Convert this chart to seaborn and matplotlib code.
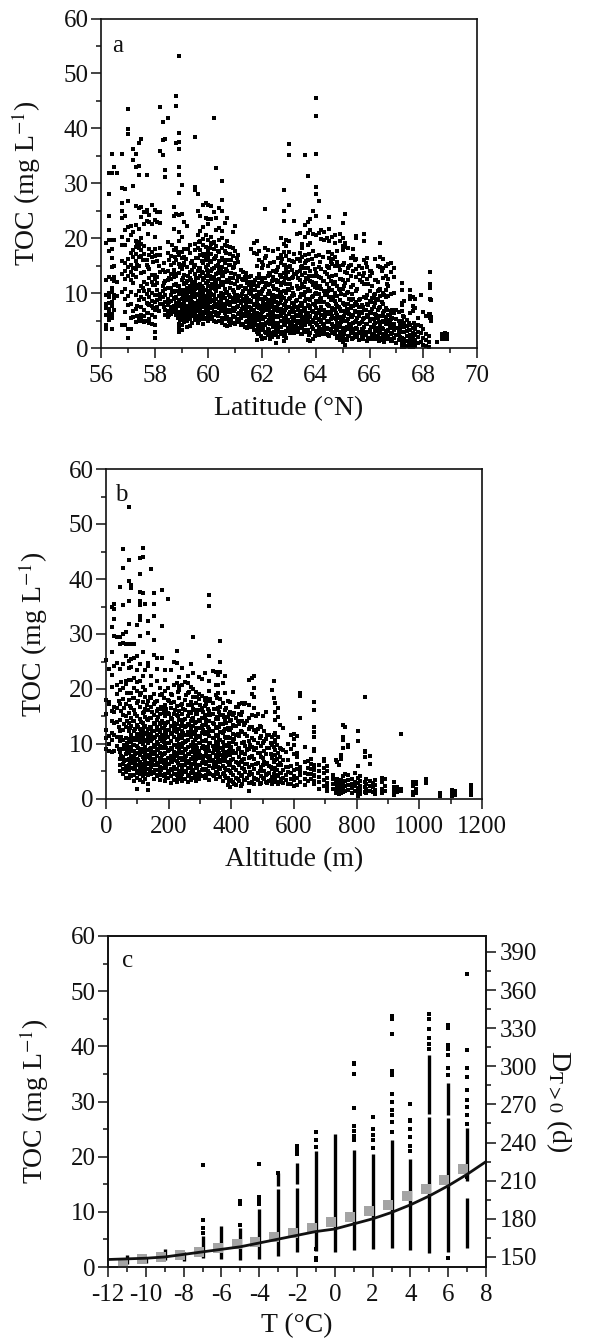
import matplotlib
matplotlib.use("Agg")
import matplotlib.pyplot as plt
from matplotlib.ticker import MultipleLocator
import pandas as pd
import seaborn as sns

sns.set_theme(style="white")
plt.rcParams["font.family"] = ["Liberation Serif", "DejaVu Serif"]
plt.rcParams["mathtext.fontset"] = "stix"
plt.rcParams["axes.unicode_minus"] = False

# Panel a: latitude columns and the TOC readings in each
lat_a = [56.2,56.3,56.4,56.5,56.6,56.8,56.9,57.0,57.1,57.2,57.3,57.4,57.5,57.6,57.7,57.8,57.9,58.0,58.1,58.2,58.3,58.4,58.5,58.6,58.7,58.8,58.9,59.0,59.1,59.2,59.3,59.4,59.5,59.6,59.7,59.8,59.9,60.0,60.1,60.2,60.3,60.4,60.5,60.6,60.7,60.8,60.9,61.0,61.1,61.2,61.3,61.4,61.5,61.6,61.7,61.8,61.9,62.0,62.1,62.2,62.3,62.4,62.5,62.6,62.7,62.8,62.9,63.0,63.1,63.2,63.3,63.4,63.5,63.6,63.7,63.8,63.9,64.0,64.1,64.2,64.3,64.4,64.5,64.6,64.7,64.8,64.9,65.0,65.1,65.2,65.3,65.4,65.5,65.6,65.7,65.8,65.9,66.0,66.1,66.2,66.3,66.4,66.5,66.6,66.7,66.8,66.9,67.0,67.1,67.15,67.2,67.3,67.4,67.5,67.6,67.7,67.8,67.9,68.0,68.1,68.2,68.25,68.3,68.5,68.7,68.8,68.9]
toc_a = [
[3.5,4.2,6.1,7.2,8.1,9.6,12.4,19.1],
[5.1,5.6,6.4,7.1,8.2,9.3,10.1,13,17.6,19.6,21.5,24,28.1,31.8],
[3.5,5.5,6.2,7.6,8.4,10.2,11,12.6,14.7,16.4,18.1,19.7,31.8,35.4],
[7,9.1,9.6,12.2,13,15,19.7,33],
[9.4,12,31.8],
[4.2,10.2,13.4,15.8,18.7,20.3,23.6,25,26.4,29.1,35.4],
[4.1,6.5,8.9,10.7,12.6,14.1,15.4,18.8,21.5,24,29],
[1.8,3.5,7.8,9.4,13.1,14.7,16.2,19.7,22,26.7,38.9,39.8,43.5],
[3.5,5.4,8,10.2,12.3,13.9,15.1,17.3,20.6,22.2],
[5.7,6.8,11.9,13.3,14.6,16.5,17.8,21.2,29.5,34.3,36.2],
[4.8,7.1,9.7,12.9,14.4,15.9,17.1,18.4,19.5,22.4,25.8,33,35.4],
[4.9,5.6,8.7,10.4,14.9,16.6,18.2,19.3,21.7,25.5,31.5,33.2,37.3],
[5.2,6.1,7.5,9.3,11.2,13.6,16.8,17.9,19,20.1,23.8,25.6,38],
[4.7,5.8,6.9,8.9,10.3,12,13.9,17.2,18.6,22.6,24.7],
[5,6.4,8.2,9.8,11.6,15.2,16.1,23.2,24.8,25.2,31.5],
[4.5,5.3,7.8,9.2,10.6,12.8,14.3,17,18,23,24.2],
[4.4,6,7.6,8.5,10,12.1,13.3,16.5,17.5,22.5,26],
[1.8,3,4.2,5.6,7,8.4,9.7,11.4,12.5,13.3,16.8,18.1,20.2,23.3,25.2],
[7.5,8.8,10.5,11.8,12.9,15.8,17,22.9,24.7],
[8.1,9,9.9,13.9,16.9,18.3,22.7,24.8,35.8,43.8],
[8,9.2,10.3,11.3,14.2,35.2,37.9,41.1],
[6,7,8.4,9.6,10.7,12.2,13.8,31.2,32.4,38.1],
[5.7,6.8,7.9,9,10.9,12.3,14.1,17.3,19.3,41.8],
[6.2,7.4,8.6,9.7,11,12.6,13.5,15.2,16.8],
[6.7,7.7,8.9,10.2,11.5,12.9,14.2,15.5,17.9,21.7,24.1,25.6],
[6.1,7.2,8.2,9.2,10.4,11.7,13.1,16.1,18.3,24.4,37.3,44.1,45.8],
[2.9,3.6,4.4,5.4,6.6,7.7,8.7,9.8,11.2,13.7,15.3,17,19.4,21.2,24.3,28.3,31.5,33,36.2,37.6,39.1,53.1],
[3.3,4.2,5.7,6.8,7.4,8.9,10.1,12.4,14.4,16.3,17.4,20.3,24.4,29.6],
[4.8,5.5,6.2,7.1,8.3,9.4,10.6,11.6,13.3,15.5,16.6,18,23],
[3.9,5,5.9,6.6,7.7,8.8,9.9,11,12.2,14.7,22.2],
[4,5.2,6.1,7,8,9.1,10.2,11.3,12.8,13.9,17.3,18.8],
[4.5,5.8,6.5,7.4,8.4,9.5,10.5,11.8,14.2,15.9],
[5.1,6.4,7.2,8.2,9.2,10.8,12.1,13.5,15.1,17.8,19,28.8,29.3,38.4],
[4.6,5.6,6.7,7.6,8.6,9.7,11.4,12.7,14,16.3,18.2,20.5,25,28.1],
[5.3,6.3,7.3,8.1,9.3,10.3,11.7,13.1,14.6,16.9,17.9,19.5,21.3,24],
[4.3,5.7,6.6,7.8,8.8,9.9,11,12.4,13.7,15.4,17.1,18.7,19.8,22.1,26.1],
[5.4,6.4,7.1,8.3,9.4,10.5,11.9,13.2,14.8,16.1,18.4,20.6,23.6,26.4],
[4.9,5.9,7,8,9,10.1,11.2,12.2,13.6,15.2,16.6,17.8,19.6,22.5,23.4,26],
[5.2,6.2,7.4,8.7,9.8,10.9,12.6,14.1,15.7,17.2,18.9,20.2,23.5,25.9],
[5,6.6,7.7,8.5,9.6,11.4,13,14.5,16.2,18,19.3,24.7,41.8],
[4.8,6.1,7.5,8.9,10.4,11.8,13.4,15,16.8,18.6,21.5,23.6,32.7],
[4.9,6.4,7.2,8.3,9.5,11.1,12.5,14.3,15.8,17.5,19.7,21.8,25.5],
[4.5,5.5,6.7,8.1,9.9,11.5,13.3,14.7,16.4,18.3,20,21.3,25,27,30.4],
[4.1,5.3,6.3,7.6,9.1,10.7,12,13.8,15.5,17.6,18.8,22.8],
[4,5.6,7,8.6,10.2,12.3,14,16,18.5,19.5,23.6],
[4.2,5.2,6.5,7.8,9.3,11,12.8,15.1,17.1,18.4],
[4.6,5.9,7.3,8.8,10.6,12.7,14.6,16.7,18.2,21.2],
[4.3,5.7,7.1,8.4,9.7,11.6,13.5,15.4,17.7,22.2],
[5.1,6.2,7.7,9,10.9,12.9,15.7,17],
[4.1,5.4,6.8,8.2,9.5,11.2,14.2],
[4.4,6,7.4,8.9,10.3,12.4,13.9],
[4.7,5.8,6.9,8,9.4,10.8,12.6,13.6],
[4,5.3,6.5,7.5,8.7,10,11.5,12.9],
[3.8,4.9,6.1,7.2,8.5,9.9,11,13.2,18.1],
[3.2,4.5,5.6,6.7,7.8,9.2,10.5,12.1,17.3,19.1],
[1.5,3,4.2,5.3,6.4,7.5,8.6,9.7,11.3,12.8,15,17.2,19.4],
[2.9,4,5.1,6.2,7.3,8.9,10.2,11.8,13.4,16.1,17.7],
[1.7,3.2,4.4,5.5,6.6,7.7,9,10.4,12,14.5,15.7],
[1.9,3,4.1,5.7,6.9,8.1,9.3,11.1,12.7,16.3,18.2,25.4],
[2.4,3.5,4.8,6,7.2,8.4,9.8,11.5,13.1,14.9,17.9],
[1.6,2.8,4.3,5.4,6.5,7.6,8.8,10.1,11.7,13.3,15.4],
[2.7,3.8,4.9,6.3,7.4,8.5,9.6,11.2,12.9,14,17.7],
[1,2.3,3.6,4.6,5.8,7,8.3,9.5,10.7,12.4,13.8],
[2,3.3,4.5,5.6,6.8,8,9.2,10.6,12.2,14.7,16.4,18],
[2.6,3.9,5,6.1,7.1,8.7,9.9,11.4,13,15.5,17,20],
[1.2,2.1,4.2,5.5,6.6,7.8,9.1,10.3,12.1,13.6,15.2,17.5,19,23.1,25,28.8],
[1.8,3.1,4.7,5.9,7.3,8.6,10,11.6,13.2,14.4,16.7,18.6,19.6],
[3.4,4.8,6.2,7.5,8.9,10.5,12.5,14.8,16.1,17.4,19.4,26,35.1,37.1],
[3,4.3,5.7,7,8.2,9.4,11,12.8,14.2,15.9],
[2.8,4,5.2,6.5,7.9,9.7,13.5,15.6,17.2,23.1],
[3.3,4.6,6,7.4,8.8,11.3,13.9,16.2,20.7],
[3.7,5,6.3,7.7,9.3,10.9,12.3,14.1,15.8,17.3,21],
[2.5,3.6,5.3,6.7,8,9.6,11.7,13.3,15,16.6,18.3,19],
[2.9,4.2,5.6,7.1,8.5,10.2,12,13.7,15.4,17,20.2,22.4,35.1],
[1.5,3.2,4.9,6.4,7.8,9,10.7,12.6,14.5,16,18.7,21,22.9,31.4],
[1.3,2.7,4.4,5.8,7.2,8.7,10.4,12.2,14,19.1,21.4,23.4],
[1.6,3.5,5.1,6.6,8.1,9.5,11.4,13.2,15.3,17.6,20.8,25],
[3.1,4.5,5.9,7.3,8.6,10.1,11.9,13.6,16.8,20.6,24,28,29.4,35.4,42.2,45.5],
[2.3,3.8,5.2,6.8,8.3,9.9,11.1,13,14.7,17,20.9,26.7],
[3.4,4.7,6.1,7.5,9.1,10.8,12.7,14.4,19.9,21.5],
[2.8,4.1,5.5,7,8.4,10.3,12.2,19.6,21.2],
[2.5,3.7,5,6.5,8,9.7,11.6,13.4,15,20.1],
[2.2,3.4,4.8,6.2,7.6,9.2,11,12.9,14.6,16.4,17.5,19.4,21.7,23.8],
[3,4.4,5.8,7.3,9,10.6,13.1,15.3,17.1,20.3],
[2.6,3.9,5.4,6.9,8.5,10,12,14.9,16.6,19.1,20.5],
[1.9,3.2,4.6,6,7.7,9.4,11.3,15.6,17.7],
[1.4,2.9,4.2,5.6,7.1,8.8,10.5,12.5,14.2,19.5,20.7],
[1.1,2.4,3.6,5.1,6.7,8.2,10.7,12.4,15.2,17.8,18.6,20.1,22.7],
[0.6,1.7,3.3,4.9,6.3,7.9,9.6,11.8,13.8,18.4,19.2,24.4],
[2.1,3.5,5.3,6.8,8.1,10.2,12.3,14.6,18.2],
[2.7,4,5.7,7.2,8.7,11.1,13.2,15.1,16.4],
[1.8,3.1,4.5,6.1,7.6,9,11.5,14,16.8,18.1],
[2.3,3.7,5,6.5,8.3,10.3,12.9,14.3,16.2,20,20.4],
[1.5,2.9,4.3,5.9,7.4,8.8,13.4,14.9],
[2,3.4,4.8,6.3,7.8,12.1,14.5],
[2.6,3.9,5.5,7,9.2,11.7,13.6,16.1,19.5,20.8],
[1.2,3,4.4,6,8,9.6,12.6,14.8,16.3],
[1.9,3.3,4.9,6.6,8.5,10.4,13.1,14.1],
[2.5,3.8,5.2,7.1,9.1,11.2,13.7],
[1.7,3.1,4.6,6.2,8.2,9.9,12.4,16.2],
[2.2,3.6,5.4,6.9,8.7,10.3,12,15],
[1.4,2.8,4.1,5.8,7.5,9.4,10.8,14.7,16.6,19.1],
[2.4,3.5,5,6.4,8,10.1,12.8,14.5,16.2],
[1.6,3,4.3,5.6,7.2,9.2,10.6,13.1,14.9],
[2,3.3,4.7,6.1,9.5,11.3,12.5,15.3],
[1.2,2.6,3.9,5.2,6.7,9.8,13.9,15.5],
[1.8,3.2,4.4,6.4,10,12.9,14.6],
[1,2.3,3.7,5.3,6.9],
[1.4,2.7,3.4,4.9,6.5],
[2,3.1,3.6,4.2],
[0.2,1,1.8,3,4.3,5,6.8,7.8,8.2,10.6,11.8],
[0.1,0.8,1.6,2.9,3.8,4.5,5.6,8.6],
[0.3,1.2,2.2,3.1,4,5.1],
[0.1,0.7,1.4,2.3,3.3,4.1,6.3,8.9,9.4,10.5],
[0.2,1,1.9,2.8,3.6,6.7,7.7,9.2],
[0.4,1.3,2.4,3.5,4.1,7.3,9],
[0.9,2,3,4.2,5.5],
[1.1,2.7,4,9.7],
[0.6,1.8,3.4,6.6],
[0.3,1.4,2.6,5.8],
[0.1,1.1,2.1,6.2],
[5.4,6.2,9,11,11.7,13.8],
[5,5.6,8.8],
[1.1],
[1.6,2.2,2.6],
[1.7,2,2.4,2.8],
[1.6,2.1,2.5],
]

# Panel a: further readings between those columns
lat_a2 = [57.35,57.55,57.75,57.95,58.15,58.35,58.55,58.65,58.75,58.85,58.95,59.05,59.15,59.25,59.35,59.45,59.55,59.65,59.75,59.85,59.95,60.05,60.15,60.25,60.35,60.45,60.55,60.65,60.75,60.85,60.95,61.05,61.15,61.25,61.35,61.45,61.55,61.65,61.75,61.85,61.95,62.05,62.15,62.25,62.35,62.45,62.55,62.65,62.75,62.85,62.95,63.05,63.15,63.25,63.35,63.45,63.55,63.65,63.75,63.85,63.95,64.05,64.15,64.25,64.35,64.45,64.55,64.65,64.75,64.85,64.95,65.05,65.15,65.25,65.35,65.45,65.55,65.65,65.75,65.85,65.95,66.05,66.15,66.25,66.35,66.45,66.55,66.65,66.75,66.85,67.25,67.45,67.65]
toc_a2 = [
[15.2,5.9,18.9,7.7],[16.1,10.9,4.9],[14.8,6.3,20.8,8.1],[7.3,15.6,11.4],[9.6,14.9,6.7],[15.4,7.4,11.9],[8.3,16,12.8,6.1],[10.3,7,18.7],[9.1,13.4,6.5,16.6],[11.2,7.9,17.4,5.5],
[6.1,10.6,14.8,8,5.1],[12.8,9.5,6.3,15.1,7.9],[6.9,11.8,8.7,16.2,10.2],[9.2,5.4,13.1,7.3,18.1],[7.6,12.3,6.5,10.7,15.5,8.8],[10,6.9,14.7,8.1,11.4],[7.9,5.9,12.7,9.9,16.3,6.7],[11,8.4,14.6,7.1,5.1,19.3],[9.7,6.1,13.9,8.9,15.8,11.2],[7.4,12.8,5.3,10.6,16.7,8.6],[6.8,9.3,14.2,7.7,11.8,17.2,5.2],
[10.4,8.4,13.1,6.3,15.9,9.2,18.2],[7.2,11.7,5.6,14.4,8.8,19.1],[12.4,9,6.5,16.4,7.9,10.7],[8.1,13.7,5.9,11.2,15.2,17.7],[6.9,10,14,8.7,12.1,5],[9.4,7.3,13.2,16.1,11.5],[5.6,10.1,8,14.3,17.3,6.6],[12,7,9.6,15.2,4.9],[8.4,5.1,11.8,13.6,16.1],[6.7,10.2,9.1,14.8,4.6],
[7.5,12.2,5.3,9.7,16.4],[8.6,4.7,11.1,6.4,13.1],[5.9,9.9,7.1,12.6,4.2],[10.9,6.2,8.5,13,3.9],[7.4,5,9.1,11.9,3.6],[6,12.1,8.4,4.6,10.4],[9.5,7,3.9,11.4,5.5],[8,4.8,10.6,6.4,12.4],[5.9,11.2,3.4,7.8,9.3,2.5],[7.1,4.3,9.9,12.7,6.1,2.2],
[10.7,5.2,8.3,3.7,6.7,15.2],[4.6,9,2.7,11.9,7.5,16.8],[6.9,3.3,10.4,8.1,13.6,5.1],[12.2,4.4,7.8,2,9.4,6],[5.6,8.9,3,10.8,6.9,15.7],[7.5,4.1,12.1,9.4,2.9,14.2],[3.8,10.2,5.9,8.2,13.3],[6.3,2.9,9.2,11.9,4.9,16.2],[8,4.4,12.7,6.9,2.4,15.1],[5.1,10.7,7.5,3.6,13.8],
[9.1,4.2,6.6,11.7,2.7,15],[7.3,3.5,10,5.1,12.9],[4.9,8.6,6.1,13.4,3.9],[10.8,7,3,12.7,5.8,16.2],[6,9.9,4.4,8.2,14.8,2.6],[3.2,7.2,11.1,5,9.6,14.6],[8.9,4.7,12.8,6.4,3,15.9],[5.6,10.4,7.7,2.4,13.1,17.2],[9.3,3.9,6.8,12,4.8,16.2],[7.9,11.1,2.1,5.4,14.3,9.9],
[4.1,8.4,6.4,13.2,2.9,10.9],[6.9,3.1,11.3,5.1,9,15.6],[8.3,4.4,12.2,2.6,7,16.6],[5.8,9.7,3.5,13.9,6.6],[10.4,4.7,7.9,2.3,14.7,17.4],[6.5,8.8,3.2,12.2,5.3,15.6],[4,9.3,7.1,2.8,11.7,16.2],[8.1,5.2,3.3,13.3,6.3],[3.9,7.4,10.8,2.1,5.5,14.9],[6.7,1.8,9.8,4.7,12.6],
[3,8,5.8,2.5,11.2,15.4],[5,7.1,1.4,10,3.8,13.7],[6.2,2.2,8.9,4.4,14.9],[3.4,7.7,1.6,5.6,9.9],[4.7,6.7,2.6,8.1,16.1],[2,5.5,3.5,7.9,10.8],[6.5,2.8,4.6,8.9,12.4],[3.2,1.6,5.3,7.4,13.1],[4.3,6.9,2.4,9.1,15.4],[2.9,7.9,5.7,1.9,11.7],[3.9,6.3,1.6,8.4,14],
[5.3,2.4,7.4,4.2,9.6],[2,6.1,3.4,8.9,12.4],[4.8,2.9,7.2,1.3,10.6],[3.7,5.9,1.8,8.3,14.1],[2.5,6.7,4.7,1.1,9.7],[5.1,3.1,7,2.1,11.6],[3.9,1.7,6,4.5],[2.7,5.4,1.2,3.6,6.9],[4.5,1.5,2.9,5.9],[3.2,2.1,0.9,4.6],
[1.4,4.6,2.6,0.6,7.3],[2.5,0.5,3.9,1.7,5.9],[1.1,3.6,0.3,2.6,7],
]

# Panel b: altitude columns and the TOC readings in each
alt_b = [0,9,18,27,36,45,54,63,72,81,90,99,108,117,126,135,144,153,162,171,180,189,198,207,216,225,234,243,252,261,270,279,288,297,306,315,320,328,340,365,350,358,372,380,388,396,405,415,425,435,445,455,465,472,485,495,505,510,520,530,540,548,535,538,555,565,575,590,600,610,620,635,645,655,663,665,680,695,705,725,735,745,738,750,757,762,772,785,795,803,810,825,830,842,852,860,880,890,920,930,940,980,990,1020,1065,1105,1115,1165]
toc_b = [
[9,11,12.5,15.5,18,25.2],
[8.8,10,11.5,17.3,17.6,23.7],
[8.5,10.8,12,14.2,16,20.4,22.5,31.3,35,26.8],
[8.7,11.6,13.8,15.8,24.2,32.8,34.6,35.4,29.6,16.7],
[9.6,11.2,14,16.5,19,20.7,24.8,29.4],
[5,6.2,7.3,8.6,10.5,12.3,14.3,17.2,19.8,23.7,28.1,29.4,38.5],
[4.6,5.5,6.4,7.6,9,10.7,12.5,15.3,18.2,20.2,24.6,28.4,30,35.3,42,45.4],
[3.8,4.9,6,7,8.2,9.6,11.1,13,15,17.2,20.9,21.5,26,28.2,30.3],
[3.9,5.2,6.2,7.3,8.4,9.5,10.9,12.3,13.8,15.6,18,21.7,23.8,25.1,28.2,31.8,36,39.6,43.4,53.1],
[4.1,5.6,6.7,7.9,9.1,10.3,11.7,13.2,14.8,16.6,19.3,21.6,24,25.4,28.2,38.3,38.9],
[3.3,4.4,5.5,6.5,7.6,8.7,9.8,11,12.4,14.2,16.1,18.3,20.2,22,28.2,25.7],
[1.8,3.9,5.1,6.2,7.3,8.4,9.6,10.7,11.9,13.4,15.1,17.4,19.7,21.2,23.4,31.7,26],
[3.4,4.5,5.7,6.8,8,9.1,10.3,11.5,12.8,14.6,16.7,18.9,21.4,24.6,29.6,32.6,33.2,35.2,36,37.6,41,43.8],
[3,4.1,5.2,6.4,7.6,8.8,10,11.3,12.5,13.9,15.7,17.6,20.4,22.3,26.8,37.4,44,45.7],
[3.7,4.9,6,7.1,8.3,9.4,10.6,11.9,13.3,14.9,16.3,18.5,19.8,23.4,35.4],
[1.7,2.7,4.3,5.4,6.6,7.7,8.9,10.2,11.4,12.7,14.4,16.1,17.9,24.8,24.2,30.1,32.4],
[4.6,5.9,7,8.2,9.3,10.5,11.8,13.1,14.7,16.8,18.3,20.8,22.3,41.8],
[3.6,4.8,6.1,7.3,8.6,9.8,11.1,12.4,13.8,15.3,17.2,19.1,26.2,29,33.3,35.4,37.4],
[4.2,5.3,6.5,7.8,9.1,10.4,11.7,13,14.4,16,17.8,21.4,23.6,25.6],
[3.5,4.7,5.9,7.2,8.4,9.7,10.9,12.2,13.6,15.4,18.9,20.2],
[4.4,5.6,6.8,8,9.2,10.5,11.6,12.9,14.2,16.4,19.1,25.7,31.4,38],
[3.2,4.5,5.8,7,8.3,9.6,11,12.3,13.5,15,17.1,19.6,21.7,23.4],
[3.8,5,6.3,7.5,8.8,10.1,11.3,12.6,14,15.6,18,20.2,36.4],
[2.9,4.1,5.4,6.7,7.9,9.3,10.6,12,13.3,14.8,16.5,17.4,19.1,23.5],
[3.4,4.6,5.9,7.1,8.5,9.8,11.2,12.5,13.9,15.4,17.6,20.7,25],
[3.1,4.3,5.5,6.9,8.2,9.5,10.8,12.1,13.7,15.2,16.9,21,24.7,27],
[3.6,4.8,6.1,7.4,8.7,10,11.4,12.8,14.3,16,18.3,19.8,20.5,22.2],
[3.3,4.5,5.7,7,8.4,9.7,11.1,12.4,13.8,15.5,17.3,20.8,23.8],
[3.7,4.9,6.2,7.6,8.9,10.3,11.6,13,14.5,16.2,18,21.3],
[3,4.2,5.6,6.9,8.1,9.4,10.7,12.2,13.6,15.1,17,19.2,21.1,22.3],
[3.5,4.7,6,7.3,8.6,9.9,11.2,12.7,14.1,15.7,17.7,20.3,24.5],
[3.8,5.1,6.4,7.7,9,10.4,11.8,13.2,14.7,16.4,18.6,20,22.9,29.5],
[3.3,4.4,5.8,7.2,8.5,9.8,11.1,12.6,14,15.4,17.4,19.5],
[3.6,4.9,6.2,7.5,8.8,10.2,11.5,12.9,14.4,16.1,18.1,19,22.1],
[4.1,5.3,6.6,7.9,9.2,10.6,12,13.3,14.8,16.6,18.8,21.9],
[3.9,5.2,6.5,7.8,9.1,10.5,11.9,13.4,15,16.9,18,22.9],
[4.3,5.5,6.8,8.1,9.4,10.8,12.2,13.6,15.2,17.2,18.4],
[3.4,4.7,6,7.4,8.7,10.1,11.4,12.8,14.2,16,17.8,19.7,21.5,26,35.1,37.1],
[4.4,5.7,7,8.3,9.6,11,12.4,13.9,15.5,17.5,23.3],
[4,5.4,6.7,8,9.3,10.7,12.1,13.7,15.3,16.8,18.2,23,25,28.7],
[3.6,4.9,6.3,7.6,9,10.3,11.7,13.1,14.6,16.3,18.9,20.7,23],
[4.5,5.8,7.2,8.6,10,11.5,13,14.5,16.5,19.2,20.8,22.6],
[3.2,4.6,6,7.4,8.9,10.4,12,13.6,15.3,17.4,21.1],
[4.2,5.6,7.1,8.5,9.9,11.3,12.7,14.4,16.2,19.3,22.4],
[2.6,3.8,5.2,6.7,8.2,9.7,11.2,12.9,14.9,17.8],
[2.2,3.5,5,6.5,8,9.5,11,12.6,14.2,15.8,17.6],
[3,4.4,5.9,7.3,8.8,10.3,11.9,13.5,15.2,19.5],
[2.5,3.9,5.3,6.8,8.4,10,11.6,13.2,14.7,16.7],
[3.3,4.7,6.2,7.7,9.3,11.4,13.7,15.5,17.2],
[2.8,4.1,5.6,7,8.6,10.2,12.2,14.1,15.9,17.4],
[3.5,4.9,6.4,8.1,9.7,11.8,13.9,17.5],
[1.4,2.9,4.3,5.8,7.4,9,10.6,12.8,14.8,17.1,21.7],
[3.1,4.5,6.1,7.8,9.4,11.1,13.1,15.2,22,19],
[2.7,3.9,5.5,7.2,8.9,10.7,12.5,16.5,22.4,20.1,18.6],
[3.4,4.8,6.6,8.3,10.1,12.8,15.4],
[2.9,4.2,5.9,7.6,9.6,11.5,13],
[3.6,5.1,6.8,8.7,10.5,12.3],
[3,4.4,6.3,8.2,10.9,15.8],
[3.2,4.7,6,9.2,11.6],
[2.8,4,5.4,7.4,9.9,11.3,19.8],
[3.4,5.2,7,8.9,10.8,12],
[2.7,4.3,6.2,8.4,11.2,14.9,16.5],
[3,4.6,6.7,9.5,11.7,18.4,21.5],
[3.3,4.1,5.6,8,10.4,12,14.4,15.9,17.4],
[3.1,4.8,6.5,7.7,9.3,13.5],
[2.9,3.9,5.3,7.1,8.9,12.9],
[3.5,4.4,5.8,8.6],
[2.7,3.6,4.7,6,9.1,11.6],
[2.4,3.4,4.2,5.2,8.2,9.8,10.9,11.8],
[2.6,3.9,5.5,6.4,7.7,8.4,11.4],
[3,4.4,5.1,5.9,18.8,19.2,14.8],
[2.5,3.7,4.8,6.7,9.4],
[3.2,4.6,5.7,6.9],
[3.6,4.5,5.4,6.3,7.3],
[2.8,4.1,5.2,6.2,8.8,9,11.3,12.2,13],
[3.3,4.3,5.8,16.2,17.6],
[1.9,3.1,4,5,6.1],
[2.4,3.5,4.7,5.6,6.9,7.2],
[1.5,2.2,2.9,3.8,5.1,6],
[1.8,2.7,3.6,4.4],
[1.1,1.9,2.8,3.4,7.1],
[0.9,1.6,2.4,3.2,6.1],
[1.2,2,3,3.7,6.7],
[1,1.8,2.6,3.4,7.2,8],
[1.3,2.1,2.9,4.1,9.2,10.7,11.3,13.4],
[1.5,2.4,3.2,4.6,13],
[1.7,2.6,3.5,4.3,9.4,9.8],
[1.1,2,2.8,3.7],
[1.4,2.3,3,4.7],
[0.6,1.2,2,2.9,3.8,6,10.5,12.4],
[0.9,1.7,2.4,3.3,4.2],
[1.3,2.2,3.1,8.5,8.8,7.6,18.6],
[1,1.9,2.7,3.6],
[1.5,2.3,3.2,6.4,7.8],
[1.2,2.1,2.9],
[0.9,1.6,2.5,3.5],
[1.1,1.9,3.1,3.9],
[1.4,2.4,3.6],
[0.7,1.5,2.2,3],
[1.2,1.8,2.1],
[1.5,1.9,11.8],
[0.7,1.3,2.3,3],
[1.1,1.9,2.8,3.1],
[2.9,3.6],
[0.6,1.1],
[0.6,1.2,1.7],
[0.7,1.2,1.5],
[0.8,1.4,2.1,2.5],
]

# Panel b: further readings between those columns
alt_b2 = [40,49,58,67,76,85,94,103,112,121,130,139,148,157,166,175,184,193,202,211,220,229,238,247,256,265,274,283,292,301,310,318,324,332,344,354,362,376,384,392,400,410,420,430,440,450,460,478,490,500,515,525,545,560,580]
toc_b2 = [
[13.1,9.1,17.8],[16,11.3,7.9,21.2],[6.9,13.6,9.9,16.6],[10.1,5.4,14.2,8.9,19.2],[6.6,12.9,8.7,16.9,4.4],[11.1,7.2,14.1,9.8,18.4],[5.9,8.1,12.8,10.7,15.4,6.9],[7,13.1,4.7,11.4,17.8,9.2],[10.8,6,14,8.5,12.2,19.2,4.9],[5.2,9.1,13.1,7.3,15.9,11.9],
[8,6.3,12,10.7,17,14.5,4.6],[11.2,5.1,9,14.8,7.4,18.6,13.1],[6.6,12.4,8.3,10.9,15.9,4.9],[9.4,7.1,13.6,5.3,11.2,17.7,8.1],[12.5,6.2,10,14.9,4.3,8.9,16.4],[7.5,11.3,5.2,9.4,13.8,16.8,6.9],[10.3,8.1,4.1,12.9,15.6,6.6,18.3],[5.7,9.3,13.9,7.1,11.8,16.4,3.9],[8.9,6.4,12.6,10.1,4.8,15.4,17.8],[11.9,7.3,5.3,14.6,9.1,18.9,6.8],
[4.6,9.9,13.1,7.8,12.4,16.2,5.5],[10.9,6.6,8.4,15,3.8,12.8,19.4],[7.4,5.1,13.3,11.6,9.5,17.1,4.2],[12,8.6,6.2,14.4,10.1,3.7,16.3],[5,10.5,7.9,13.2,9.1,18.9,6.9],[11.7,4.4,8.1,15.8,6.6,13.4,19.4],[7.2,9.6,5.2,12.1,14.6,3.9,17],[10.7,6.5,13.8,8.3,4.6,16.1,11.9],[5.7,9.2,7.8,12.9,15.4,3.6,18.6],[8,11.3,6.1,14.2,4.4,10.1,17.1],
[12.5,7,9.7,5.4,15.9,13.4,4.1],[6.3,10.6,8.4,14.4,3.9,17.6,12.2],[9.4,5.1,11.9,7.7,16.3,13],[7.9,12.4,4.6,10.1,15.2,6.9,18.2],[11.1,8.9,5.9,13.6,4.2,16.4,6.4],[6.8,9.9,12.9,4.8,14.9,8,18.4],[10.8,5.7,8.4,13.1,7,15.9],[9.7,4.7,12.3,6.9,14.9,8.2],[5.3,11,7.9,13.9,3.9,16.6],[8.7,6.1,10.2,15.4,3.2,12.6],
[7.1,12.9,4.8,9.4,14.4,3.5],[5.7,10.9,8.3,13.3,2.8,15.7],[9.1,6.6,11.9,3.6,14.1,16.8],[4.4,8.4,12.4,6.7,2.4,15.2],[10.3,7.3,3.4,13.5,5.4,17.2],[6.4,8.9,3.9,11.5,14.1],[4.9,9.9,7.6,2.9,13],[6.3,9.3,3.6,12.2,15.1],[5.1,8.4,2.7,11.1,13.2],[7.5,3.9,10.1,6.1,15.1],
[4.6,9.3,6.6,2.9,11.7],[5.8,3.4,8.2,10.1],[4.2,7.3,3,9.9,5.2],[3.7,6.2,9.1,4.7],[4.9,2.8,7.1,5.8,10],
]

# Panel c: TOC by temperature class, read as solid runs and separate dots
t_runs = [-11,-10,-9,-8,-7,-6,-5,-4,-3,-3,-2,-2,-1,0,1,2,3,4,5,5,6,6,7,7]
run_lo = [0.5,0.8,1.2,1.0,1.6,1.5,1.2,1.5,2.0,14.6,2.8,15,2.9,2.8,3.0,3.3,3.4,3.1,2.5,27.8,2.7,27.6,3.4,15.6]
run_hi = [2.2,1.8,3.2,2.8,5.6,7.5,7.0,10.6,14.2,17.1,14.4,18.8,21,24.1,21.2,20.5,23.1,19.5,27.2,38.4,27,33.4,12.5,25.2]
t_dots = [-7,-7,-7,-7,-5,-5,-5,-4,-4,-4,-4,-3,-2,-2,-2,-1,-1,-1,-1,-1,-1,1,1,1,1,1,1,1,1,2,2,2,2,2,3,3,3,3,3,3,3,3,3,3,3,4,4,4,4,4,4,4,5,5,5,5,5,5,6,6,6,6,6,6,6,6,7,7,7,7,7,7,7,7,7,7]
toc_dots = [6.2,7,8.5,18.5,7.6,11.4,12,11.4,12,12.7,18.7,17.1,20.5,21.2,22,1.2,1.7,3.2,21.8,23,24.5,23,23.8,24.6,25.6,28.8,35,37,36.8,21.5,23,24,25,27.2,24.4,26.3,27.5,28.5,29.9,31.4,34.8,35.5,42.2,45.5,45,21,22,23.5,25,26.7,29.6,26.4,39.6,40.5,41.5,43.2,45.8,45,1.6,34.8,36,38.5,39.5,40.3,43.3,43.8,26,27.5,29,30.2,32,34.5,36,39.3,53.1,16.3]

# Panel c: mean TOC per class (grey squares) and the D(T>0) curve
t_mean = [-11.2,-10.2,-9.2,-8.2,-7.2,-6.2,-5.2,-4.2,-3.2,-2.2,-1.2,-0.2,0.8,1.8,2.8,3.8,4.8,5.8,6.8]
toc_mean = [0.7,1.5,1.8,2.2,2.8,3.5,4.2,4.5,5.5,6.1,7.1,8.1,9.1,10.1,11.2,12.9,14.1,15.8,17.8]
t_curve = [-12,-11,-10,-9,-8,-7,-6,-5,-4,-3,-2,-1,0,1,2,3,4,5,6,7,8]
d_curve = [148,148.5,149,150,152,154,156,158,161,164,167,170,172,176,180,185,191,198,206,215,225]

W, H = 597, 1339
FS = 18
LFS = 20
INK = "#111111"


def new_ax(left, right, top, bottom):
    return fig.add_axes([left / W, 1 - bottom / H, (right - left) / W, (bottom - top) / H])


def style(ax, xlim, xmaj, xmin, ylab_x):
    ax.set_xlim(*xlim)
    ax.set_ylim(0, 60)
    ax.xaxis.set_major_locator(MultipleLocator(xmaj))
    ax.xaxis.set_minor_locator(MultipleLocator(xmin))
    ax.yaxis.set_major_locator(MultipleLocator(10))
    ax.yaxis.set_minor_locator(MultipleLocator(5))
    ax.tick_params(which="major", direction="out", length=7, width=1.1, labelsize=FS, bottom=True, left=True, colors=INK)
    ax.tick_params(axis="x", which="major", pad=5)
    ax.tick_params(axis="y", which="major", pad=2)
    ax.tick_params(which="minor", direction="out", length=3.5, width=1.1, bottom=True, left=True, color=INK)
    for s in ax.spines.values():
        s.set_linewidth(1.2)
        s.set_color(INK)
    ax.set_ylabel("TOC (mg L$^{\\mathrm{-1}}$)", fontsize=LFS, color=INK)
    ax.yaxis.set_label_coords(ylab_x, 0.5)


def long_form(xs, cols, xs2=(), cols2=()):
    pairs = [(x, v) for x, c in zip(list(xs) + list(xs2), list(cols) + list(cols2)) for v in c]
    return pd.DataFrame(pairs, columns=["x", "y"])


print(len(lat_a), len(toc_a), len(lat_a2), len(toc_a2), len(alt_b), len(toc_b), len(alt_b2), len(toc_b2))

fig = plt.figure(figsize=(W / 100, H / 100), dpi=100, facecolor="white")

ax1 = new_ax(101, 477, 18.5, 348)
sns.scatterplot(data=long_form(lat_a, toc_a, lat_a2, toc_a2), x="x", y="y", marker="s", s=6.5, color="black", linewidth=0, ax=ax1, clip_on=False)
style(ax1, (56, 70), 2, 1, -0.155)
ax1.set_xlabel("Latitude (°N)", fontsize=LFS, color=INK, labelpad=7)
ax1.text(56.42, 55, "a", fontsize=FS, color=INK, va="center")

ax2 = new_ax(106, 482, 469, 799)
sns.scatterplot(data=long_form(alt_b, toc_b, alt_b2, toc_b2), x="x", y="y", marker="s", s=6.5, color="black", linewidth=0, ax=ax2, clip_on=False)
style(ax2, (0, 1200), 200, 100, -0.15)
ax2.set_xlabel("Altitude (m)", fontsize=LFS, color=INK, labelpad=7)
ax2.text(30, 55.3, "b", fontsize=FS, color=INK, va="center")

ax3 = new_ax(108, 486, 936, 1267)
ax3.vlines(t_runs, run_lo, run_hi, color="black", linewidth=2.4)
sns.scatterplot(x=t_dots, y=toc_dots, marker="s", s=5.5, color="black", linewidth=0, ax=ax3)
style(ax3, (-12, 8), 2, 1, -0.15)
ax3.set_xlabel("T (°C)", fontsize=LFS, color=INK, labelpad=5)
ax3.text(-11.25, 55.5, "c", fontsize=FS, color=INK, va="center")
sns.scatterplot(x=t_mean, y=toc_mean, marker="s", s=45, color="#a4a4a4", linewidth=0, ax=ax3, zorder=5, clip_on=False)

ax4 = ax3.twinx()
sns.lineplot(x=t_curve, y=d_curve, color=INK, linewidth=2.0, ax=ax4, zorder=4)
ax4.set_ylim(142.1, 402.5)
ax4.yaxis.set_major_locator(MultipleLocator(30))
ax4.yaxis.set_minor_locator(MultipleLocator(15))
ax4.tick_params(which="major", right=True, direction="out", length=7, width=1.1, labelsize=FS, pad=3, color=INK, labelcolor=INK)
ax4.tick_params(which="minor", right=True, direction="out", length=3.5, width=1.1, color=INK)
for s in ax4.spines.values():
    s.set_linewidth(1.2)
    s.set_color(INK)
ax3.set_zorder(ax4.get_zorder() - 1)
ax4.patch.set_visible(False)
ax4.set_ylabel("D$_{\\mathrm{T>0}}$ (d)", fontsize=LFS, rotation=270, color=INK, labelpad=26)

fig.savefig("out.png", dpi=100)
